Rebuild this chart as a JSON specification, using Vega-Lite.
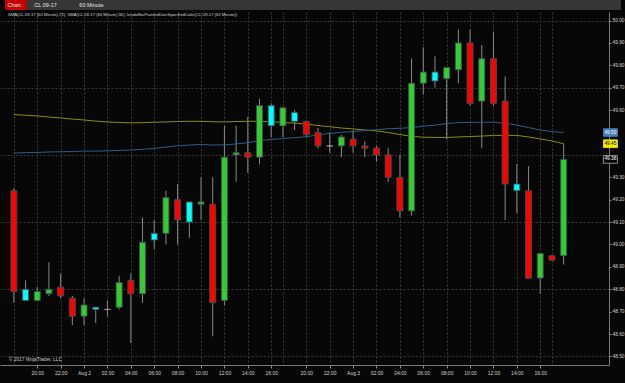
{
  "$schema": "https://vega.github.io/schema/vega-lite/v6.json",
  "width": 609,
  "height": 353,
  "autosize": {"type": "none"},
  "padding": {"left": 0, "top": 12, "right": 16, "bottom": 18},
  "background": "#070707",
  "config": {"view": {"stroke": null}, "font": "Liberation Sans"},
  "datasets": {
    "candles": [
      {"i":0,"o":49.24,"h":49.25,"l":48.74,"c":48.79,"k":"down"},
      {"i":1,"o":48.80,"h":48.84,"l":48.75,"c":48.75,"k":"inside"},
      {"i":2,"o":48.75,"h":48.81,"l":48.75,"c":48.79,"k":"up"},
      {"i":3,"o":48.78,"h":48.92,"l":48.77,"c":48.80,"k":"up"},
      {"i":4,"o":48.81,"h":48.87,"l":48.76,"c":48.77,"k":"down"},
      {"i":5,"o":48.76,"h":48.77,"l":48.64,"c":48.68,"k":"down"},
      {"i":6,"o":48.68,"h":48.76,"l":48.64,"c":48.73,"k":"up"},
      {"i":7,"o":48.72,"h":48.72,"l":48.65,"c":48.71,"k":"inside"},
      {"i":8,"o":48.71,"h":48.75,"l":48.68,"c":48.71,"k":"doji"},
      {"i":9,"o":48.72,"h":48.86,"l":48.71,"c":48.83,"k":"up"},
      {"i":10,"o":48.84,"h":48.87,"l":48.56,"c":48.78,"k":"down"},
      {"i":11,"o":48.78,"h":49.12,"l":48.74,"c":49.01,"k":"up"},
      {"i":12,"o":49.02,"h":49.11,"l":48.98,"c":49.05,"k":"inside"},
      {"i":13,"o":49.05,"h":49.24,"l":49.00,"c":49.21,"k":"up"},
      {"i":14,"o":49.20,"h":49.27,"l":49.00,"c":49.11,"k":"down"},
      {"i":15,"o":49.10,"h":49.19,"l":49.03,"c":49.19,"k":"inside"},
      {"i":16,"o":49.18,"h":49.30,"l":49.11,"c":49.19,"k":"up"},
      {"i":17,"o":49.18,"h":49.30,"l":48.59,"c":48.74,"k":"down"},
      {"i":18,"o":48.75,"h":49.53,"l":48.73,"c":49.39,"k":"up"},
      {"i":19,"o":49.40,"h":49.53,"l":49.28,"c":49.41,"k":"up"},
      {"i":20,"o":49.41,"h":49.57,"l":49.32,"c":49.39,"k":"down"},
      {"i":21,"o":49.39,"h":49.65,"l":49.36,"c":49.62,"k":"up"},
      {"i":22,"o":49.62,"h":49.63,"l":49.48,"c":49.53,"k":"inside"},
      {"i":23,"o":49.53,"h":49.61,"l":49.48,"c":49.61,"k":"up"},
      {"i":24,"o":49.59,"h":49.60,"l":49.51,"c":49.55,"k":"inside"},
      {"i":25,"o":49.55,"h":49.55,"l":49.48,"c":49.49,"k":"down"},
      {"i":26,"o":49.50,"h":49.52,"l":49.43,"c":49.44,"k":"down"},
      {"i":27,"o":49.44,"h":49.50,"l":49.41,"c":49.44,"k":"doji"},
      {"i":28,"o":49.44,"h":49.49,"l":49.39,"c":49.48,"k":"up"},
      {"i":29,"o":49.47,"h":49.51,"l":49.41,"c":49.44,"k":"down"},
      {"i":30,"o":49.44,"h":49.46,"l":49.39,"c":49.43,"k":"down"},
      {"i":31,"o":49.43,"h":49.44,"l":49.37,"c":49.40,"k":"down"},
      {"i":32,"o":49.40,"h":49.43,"l":49.28,"c":49.30,"k":"down"},
      {"i":33,"o":49.30,"h":49.40,"l":49.12,"c":49.15,"k":"down"},
      {"i":34,"o":49.15,"h":49.83,"l":49.13,"c":49.72,"k":"up"},
      {"i":35,"o":49.72,"h":49.88,"l":49.67,"c":49.77,"k":"up"},
      {"i":36,"o":49.77,"h":49.84,"l":49.70,"c":49.73,"k":"inside"},
      {"i":37,"o":49.74,"h":49.79,"l":49.47,"c":49.79,"k":"up"},
      {"i":38,"o":49.78,"h":49.96,"l":49.72,"c":49.90,"k":"up"},
      {"i":39,"o":49.90,"h":49.96,"l":49.62,"c":49.63,"k":"down"},
      {"i":40,"o":49.64,"h":49.89,"l":49.43,"c":49.83,"k":"up"},
      {"i":41,"o":49.83,"h":49.95,"l":49.62,"c":49.63,"k":"down"},
      {"i":42,"o":49.64,"h":49.75,"l":49.11,"c":49.27,"k":"down"},
      {"i":43,"o":49.27,"h":49.36,"l":49.14,"c":49.24,"k":"inside"},
      {"i":44,"o":49.24,"h":49.35,"l":48.85,"c":48.85,"k":"down"},
      {"i":45,"o":48.85,"h":48.96,"l":48.78,"c":48.96,"k":"up"},
      {"i":46,"o":48.95,"h":48.95,"l":48.93,"c":48.93,"k":"down"},
      {"i":47,"o":48.95,"h":49.45,"l":48.91,"c":49.38,"k":"up"}
    ],
    "ma": [
      {"i":0,"s72":49.580,"s90":49.408},{"i":1,"s72":49.577,"s90":49.410},{"i":2,"s72":49.574,"s90":49.411},
      {"i":3,"s72":49.569,"s90":49.413},{"i":4,"s72":49.565,"s90":49.414},{"i":5,"s72":49.560,"s90":49.415},
      {"i":6,"s72":49.556,"s90":49.417},{"i":7,"s72":49.551,"s90":49.417},{"i":8,"s72":49.547,"s90":49.418},
      {"i":9,"s72":49.545,"s90":49.420},{"i":10,"s72":49.543,"s90":49.422},{"i":11,"s72":49.544,"s90":49.425},
      {"i":12,"s72":49.546,"s90":49.429},{"i":13,"s72":49.547,"s90":49.435},{"i":14,"s72":49.549,"s90":49.441},
      {"i":15,"s72":49.550,"s90":49.444},{"i":16,"s72":49.550,"s90":49.447},{"i":17,"s72":49.548,"s90":49.444},
      {"i":18,"s72":49.547,"s90":49.445},{"i":19,"s72":49.549,"s90":49.449},{"i":20,"s72":49.550,"s90":49.455},
      {"i":21,"s72":49.550,"s90":49.463},{"i":22,"s72":49.548,"s90":49.469},{"i":23,"s72":49.545,"s90":49.473},
      {"i":24,"s72":49.542,"s90":49.477},{"i":25,"s72":49.538,"s90":49.481},{"i":26,"s72":49.531,"s90":49.489},
      {"i":27,"s72":49.526,"s90":49.496},{"i":28,"s72":49.520,"s90":49.501},{"i":29,"s72":49.516,"s90":49.504},
      {"i":30,"s72":49.511,"s90":49.509},{"i":31,"s72":49.507,"s90":49.512},{"i":32,"s72":49.500,"s90":49.517},
      {"i":33,"s72":49.491,"s90":49.519},{"i":34,"s72":49.483,"s90":49.522},{"i":35,"s72":49.479,"s90":49.528},
      {"i":36,"s72":49.478,"s90":49.533},{"i":37,"s72":49.478,"s90":49.540},{"i":38,"s72":49.480,"s90":49.544},
      {"i":39,"s72":49.482,"s90":49.545},{"i":40,"s72":49.484,"s90":49.546},{"i":41,"s72":49.487,"s90":49.546},
      {"i":42,"s72":49.487,"s90":49.541},{"i":43,"s72":49.487,"s90":49.533},{"i":44,"s72":49.480,"s90":49.522},
      {"i":45,"s72":49.471,"s90":49.511},{"i":46,"s72":49.462,"s90":49.504},{"i":47,"s72":49.450,"s90":49.500}
    ],
    "tags": [
      {"tag":"sma90","v":49.50,"t":"49.50"},
      {"tag":"sma72","v":49.45,"t":"49.45"},
      {"tag":"last","v":49.38,"t":"49.38"}
    ]
  },
  "layer": [
    {
      "data": {"values": [{"part": "toolbar"}]},
      "mark": {"type": "rect", "fill": "#363636"},
      "encoding": {
        "x": {"datum": -0.757, "type": "quantitative", "scale": {"domain": [-0.757, 50.45], "nice": false, "zero": false}, "axis": null},
        "x2": {"datum": 51.9},
        "y": {"datum": 50.0916, "type": "quantitative", "scale": {"domain": [48.462, 50.038], "nice": false, "zero": false}, "axis": null},
        "y2": {"datum": 50.047}
      }
    },
    {
      "data": {"values": [{"part": "chartbtn"}]},
      "mark": {"type": "rect", "fill": "#c80000"},
      "encoding": {
        "x": {"datum": -0.757, "type": "quantitative", "scale": {"domain": [-0.757, 50.45], "nice": false, "zero": false}, "axis": null},
        "x2": {"datum": 1.09},
        "y": {"datum": 50.0916, "type": "quantitative", "scale": {"domain": [48.462, 50.038], "nice": false, "zero": false}, "axis": null},
        "y2": {"datum": 50.047}
      }
    },
    {
      "data": {"values": [
        {"txt": "Chart", "px": -0.55},
        {"txt": "CL 09-17", "px": 1.75},
        {"txt": "60 Minute", "px": 5.6}
      ]},
      "mark": {"type": "text", "fontSize": 5.5, "align": "left", "baseline": "middle", "color": "#e6e6e6"},
      "encoding": {
        "x": {"field": "px", "type": "quantitative", "scale": {"domain": [-0.757, 50.45], "nice": false, "zero": false}, "axis": null},
        "y": {"datum": 50.069, "type": "quantitative", "scale": {"domain": [48.462, 50.038], "nice": false, "zero": false}, "axis": null},
        "text": {"field": "txt"}
      }
    },
    {
      "data": {"name": "candles"},
      "mark": {"type": "rule", "color": "#8a8a8a", "strokeWidth": 1},
      "encoding": {
        "x": {"field": "i", "type": "quantitative",
          "scale": {"domain": [-0.757, 50.45], "nice": false, "zero": false},
          "axis": {"orient": "bottom", "values": [0,2,4,6,8,10,12,14,16,18,20,22,23,25,27,29,31,33,35,37,39,41,43,45,46],
            "grid": true, "gridColor": "#3c3c3c", "gridDash": [2, 2], "gridWidth": 1,
            "labels": false, "ticks": false, "domain": false, "title": null}},
        "y": {"field": "l", "type": "quantitative",
          "scale": {"domain": [48.462, 50.038], "nice": false, "zero": false},
          "axis": {"orient": "right", "values": [48.5, 48.8, 49.1, 49.4, 49.7, 50.0],
            "grid": true, "gridColor": "#3c3c3c", "gridDash": [2, 2], "gridWidth": 1,
            "labels": false, "ticks": false, "domain": false, "title": null}},
        "y2": {"field": "h"}
      }
    },
    {
      "data": {"name": "ma"},
      "mark": {"type": "line", "color": "#8c8c10", "strokeWidth": 1},
      "encoding": {
        "x": {"field": "i", "type": "quantitative", "scale": {"domain": [-0.757, 50.45], "nice": false, "zero": false}, "axis": null},
        "y": {"field": "s72", "type": "quantitative", "scale": {"domain": [48.462, 50.038], "nice": false, "zero": false}, "axis": null}
      }
    },
    {
      "data": {"name": "ma"},
      "mark": {"type": "line", "color": "#2c5c8a", "strokeWidth": 1},
      "encoding": {
        "x": {"field": "i", "type": "quantitative", "scale": {"domain": [-0.757, 50.45], "nice": false, "zero": false}, "axis": null},
        "y": {"field": "s90", "type": "quantitative", "scale": {"domain": [48.462, 50.038], "nice": false, "zero": false}, "axis": null}
      }
    },
    {
      "data": {"name": "candles"},
      "mark": {"type": "bar", "width": 6, "strokeWidth": 0.9},
      "encoding": {
        "x": {"field": "i", "type": "quantitative",
          "scale": {"domain": [-0.757, 50.45], "nice": false, "zero": false},
          "axis": {"orient": "bottom", "values": [2,4,6,8,10,12,14,16,18,20,22,25,27,29,31,33,35,37,39,41,43,45],
            "labelExpr": "['17:00','19:00','20:00','21:00','22:00','23:00','Aug 2','01:00','02:00','03:00','04:00','05:00','06:00','07:00','08:00','09:00','10:00','11:00','12:00','13:00','14:00','15:00','16:00','17:00','19:00','20:00','21:00','22:00','23:00','Aug 3','01:00','02:00','03:00','04:00','05:00','06:00','07:00','08:00','09:00','10:00','11:00','12:00','13:00','14:00','15:00','16:00','17:00','19:00'][datum.value]",
            "grid": false, "domainColor": "#7a7a7a", "tickColor": "#8a8a8a", "tickSize": 3,
            "labelColor": "#cfcfcf", "labelFontSize": 5, "labelPadding": 2, "labelOverlap": false, "labelFlush": false, "title": null}},
        "y": {"field": "o", "type": "quantitative",
          "scale": {"domain": [48.462, 50.038], "nice": false, "zero": false},
          "axis": {"orient": "right", "values": [48.5,48.6,48.7,48.8,48.9,49.0,49.1,49.2,49.3,49.6,49.7,49.8,49.9,50.0],
            "format": ".2f", "grid": false, "domainColor": "#7a7a7a", "tickColor": "#8a8a8a", "tickSize": 2,
            "labelColor": "#cfcfcf", "labelFontSize": 4.8, "labelPadding": 1, "labelOverlap": false, "labelFlush": false, "title": null}},
        "y2": {"field": "c"},
        "fill": {"field": "k", "type": "nominal",
          "scale": {"domain": ["up", "down", "inside", "doji"], "range": ["#33cc33", "#ff0000", "#00ffff", "#9a9a9a"]},
          "legend": null},
        "stroke": {"field": "k", "type": "nominal",
          "scale": {"domain": ["up", "down", "inside", "doji"], "range": ["#3f4f4f", "#3f4f4f", "#3f4f4f", "#9a9a9a"]},
          "legend": null}
      }
    },
    {
      "data": {"name": "tags"},
      "mark": {"type": "point", "filled": true, "shape": "M-1,-0.55L1,-0.55L1,0.55L-1,0.55Z", "size": 196, "opacity": 1, "strokeWidth": 0.8},
      "encoding": {
        "x": {"datum": 51.0, "type": "quantitative", "scale": {"domain": [-0.757, 50.45], "nice": false, "zero": false}, "axis": null},
        "y": {"field": "v", "type": "quantitative", "scale": {"domain": [48.462, 50.038], "nice": false, "zero": false}, "axis": null},
        "fill": {"field": "tag", "type": "nominal",
          "scale": {"domain": ["sma90", "sma72", "last"], "range": ["#4a7fb8", "#f0f000", "#050505"]}, "legend": null},
        "stroke": {"field": "tag", "type": "nominal",
          "scale": {"domain": ["sma90", "sma72", "last"], "range": ["#4a7fb8", "#f0f000", "#b0b0b0"]}, "legend": null}
      }
    },
    {
      "data": {"name": "tags"},
      "mark": {"type": "text", "fontSize": 4.8, "align": "center", "baseline": "middle"},
      "encoding": {
        "x": {"datum": 51.0, "type": "quantitative", "scale": {"domain": [-0.757, 50.45], "nice": false, "zero": false}, "axis": null},
        "y": {"field": "v", "type": "quantitative", "scale": {"domain": [48.462, 50.038], "nice": false, "zero": false}, "axis": null},
        "text": {"field": "t"},
        "color": {"condition": {"test": "datum.tag === 'sma72'", "value": "#000000"}, "value": "#ffffff"}
      }
    },
    {
      "data": {"values": [
        {"txt": "SMA(CL 09-17 (60 Minute),72), SMA(CL 09-17 (60 Minute),90), InsideBarPaintedUserSpecifiedColor(CL 09-17 (60 Minute))", "px": -0.5, "py": 50.0246, "fs": 4.2},
        {"txt": "© 2017 NinjaTrader, LLC", "px": -0.42, "py": 48.484, "fs": 4.8}
      ]},
      "mark": {"type": "text", "align": "left", "baseline": "middle", "color": "#d0d0d0"},
      "encoding": {
        "x": {"field": "px", "type": "quantitative", "scale": {"domain": [-0.757, 50.45], "nice": false, "zero": false}, "axis": null},
        "y": {"field": "py", "type": "quantitative", "scale": {"domain": [48.462, 50.038], "nice": false, "zero": false}, "axis": null},
        "text": {"field": "txt"},
        "size": {"field": "fs", "type": "quantitative", "scale": null}
      }
    }
  ],
  "resolve": {
    "axis": {"x": "independent", "y": "independent"},
    "scale": {"fill": "independent", "stroke": "independent"}
  }
}
